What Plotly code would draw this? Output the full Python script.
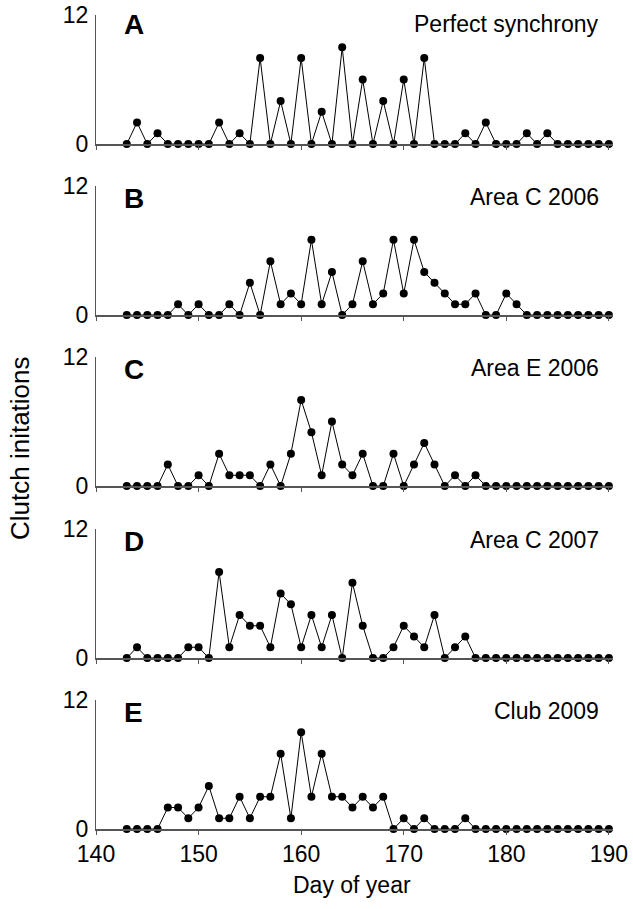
import plotly.graph_objects as go
from plotly.subplots import make_subplots

days = list(range(143, 191))

panel_letters = ["A", "B", "C", "D", "E"]
panel_titles = ["Perfect synchrony", "Area C 2006", "Area E 2006", "Area C 2007", "Club 2009"]

perfect_synchrony = [0, 2, 0, 1, 0, 0, 0, 0, 0, 2, 0, 1, 0, 8, 0, 4, 0, 8, 0, 3, 0, 9, 0, 6,
                     0, 4, 0, 6, 0, 8, 0, 0, 0, 1, 0, 2, 0, 0, 0, 1, 0, 1, 0, 0, 0, 0, 0, 0]
area_c_2006 = [0, 0, 0, 0, 0, 1, 0, 1, 0, 0, 1, 0, 3, 0, 5, 1, 2, 1, 7, 1, 4, 0, 1, 5,
               1, 2, 7, 2, 7, 4, 3, 2, 1, 1, 2, 0, 0, 2, 1, 0, 0, 0, 0, 0, 0, 0, 0, 0]
area_e_2006 = [0, 0, 0, 0, 2, 0, 0, 1, 0, 3, 1, 1, 1, 0, 2, 0, 3, 8, 5, 1, 6, 2, 1, 3,
               0, 0, 3, 0, 2, 4, 2, 0, 1, 0, 1, 0, 0, 0, 0, 0, 0, 0, 0, 0, 0, 0, 0, 0]
area_c_2007 = [0, 1, 0, 0, 0, 0, 1, 1, 0, 8, 1, 4, 3, 3, 1, 6, 5, 1, 4, 1, 4, 0, 7, 3,
               0, 0, 1, 3, 2, 1, 4, 0, 1, 2, 0, 0, 0, 0, 0, 0, 0, 0, 0, 0, 0, 0, 0, 0]
club_2009 = [0, 0, 0, 0, 2, 2, 1, 2, 4, 1, 1, 3, 1, 3, 3, 7, 1, 9, 3, 7, 3, 3, 2, 3,
             2, 3, 0, 1, 0, 1, 0, 0, 0, 1, 0, 0, 0, 0, 0, 0, 0, 0, 0, 0, 0, 0, 0, 0]

series = [perfect_synchrony, area_c_2006, area_e_2006, area_c_2007, club_2009]

x_ticks = [140, 150, 160, 170, 180, 190]
y_ticks = [0, 12]

W, H = 633, 909
L, R = 96, 20
T, B = 15, 80
plot_h = H - T - B
plot_w = W - L - R

# pixel positions (top, bottom) of each panel
panel_px = [(15, 144), (186, 315), (357, 486), (529, 658), (700, 829)]


def ypaper(py):
    return (H - B - py) / plot_h


def xpaper(px):
    return (px - L) / plot_w


FONT = "Liberation Sans, Arial, sans-serif"

fig = make_subplots(rows=5, cols=1, shared_xaxes=True)

for i, vals in enumerate(series):
    fig.add_trace(
        go.Scatter(
            x=days, y=vals, mode="lines+markers",
            line=dict(color="black", width=1),
            marker=dict(color="black", size=8),
            cliponaxis=False, showlegend=False, hoverinfo="skip",
        ),
        row=i + 1, col=1,
    )
    top, bot = panel_px[i]
    yname = "yaxis" if i == 0 else f"yaxis{i + 1}"
    xname = "xaxis" if i == 0 else f"xaxis{i + 1}"
    fig.layout[yname].update(
        domain=[ypaper(bot), ypaper(top)], automargin=False,
        range=[0, 12], tickvals=y_ticks, ticks="", showgrid=False, zeroline=False,
        showline=True, linecolor="#555555", linewidth=1.2,
        tickfont=dict(family=FONT, size=23, color="black"),
        ticklabelstandoff=2,
    )
    fig.layout[xname].update(
        range=[140, 190.4], tickvals=x_ticks, ticks="outside", ticklen=4,
        automargin=False,
        tickcolor="#555555", showgrid=False, zeroline=False,
        showline=True, linecolor="#555555", linewidth=1.5,
        showticklabels=(i == 4),
        tickfont=dict(family=FONT, size=23, color="black"),
    )
    letter_off = 9 if i == 0 else 12
    fig.add_annotation(
        x=xpaper(122), y=ypaper(top + letter_off), xref="paper", yref="paper",
        text=f"<b>{panel_letters[i]}</b>", showarrow=False,
        xanchor="left", yanchor="middle",
        font=dict(family=FONT, size=28, color="black"),
    )
    title_off = 9 if i == 0 else 11
    fig.add_annotation(
        x=xpaper(601), y=ypaper(top + title_off), xref="paper", yref="paper",
        text=panel_titles[i], showarrow=False,
        xanchor="right", yanchor="middle",
        font=dict(family=FONT, size=23, color="black"),
    )

fig.add_annotation(
    x=xpaper(352), y=ypaper(885), xref="paper", yref="paper",
    text="Day of year", showarrow=False, xanchor="center", yanchor="middle",
    font=dict(family=FONT, size=23, color="black"),
)
fig.add_annotation(
    x=xpaper(20), y=ypaper(448), xref="paper", yref="paper",
    text="Clutch initations", showarrow=False, textangle=-90,
    xanchor="center", yanchor="middle",
    font=dict(family=FONT, size=26, color="black"),
)

fig.update_layout(
    width=W, height=H,
    margin=dict(l=L, r=R, t=T, b=B),
    paper_bgcolor="white", plot_bgcolor="white",
)

fig.write_html(
    "out.html",
    config={"displayModeBar": False},
    post_script="document.body.style.margin='0';document.body.style.overflow='hidden';",
)
